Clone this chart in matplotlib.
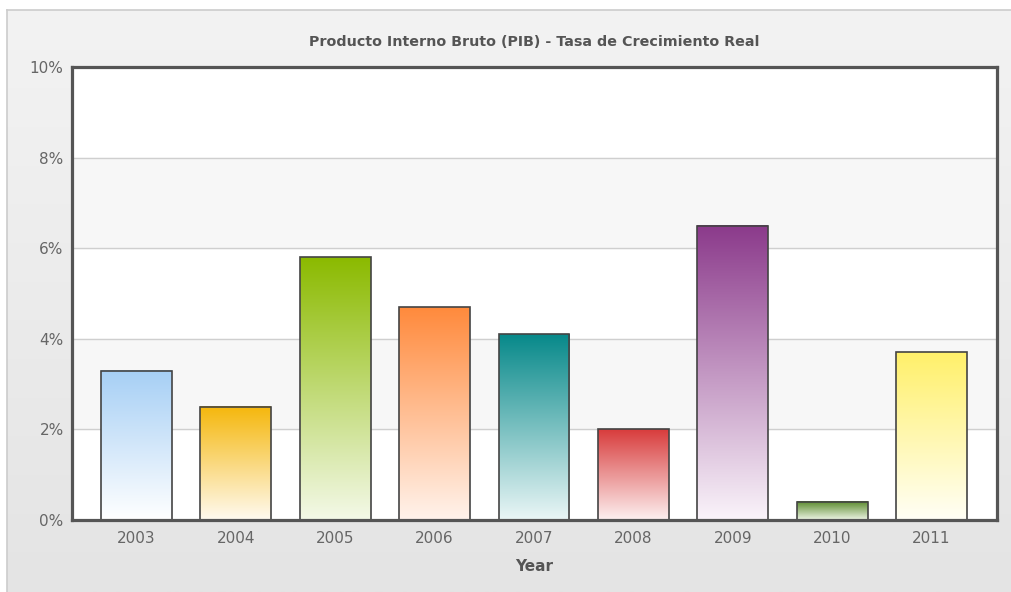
import numpy as np
import matplotlib
matplotlib.use("Agg")
import matplotlib.pyplot as plt
from matplotlib.colors import LinearSegmentedColormap
from matplotlib.patches import Rectangle

# Tasa de crecimiento real del PIB (%)
years = ["2003", "2004", "2005", "2006", "2007", "2008", "2009", "2010", "2011"]
growth = [3.3, 2.5, 5.8, 4.7, 4.1, 2.0, 6.5, 0.4, 3.7]
top_colors = ["#a6cff5", "#f5b70c", "#8bba00", "#ff8a3c", "#07898a",
              "#d83c3c", "#8b3a8b", "#5a8a2c", "#fff06a"]
bottom_colors = ["#ffffff", "#fffaf0", "#f4f9e8", "#fff3ec", "#eaf6f6",
                 "#fdf0f0", "#faf4fa", "#eef5e6", "#fffff6"]
y_ticks = [0, 2, 4, 6, 8, 10]

W, H = 1011, 592
fig = plt.figure(figsize=(W / 100, H / 100), dpi=100)
fig.patch.set_facecolor("white")

# fondo gris degradado del panel
bg = fig.add_axes([7 / W, 0, (W - 7) / W, (H - 10) / H])
bg_grad = np.linspace(0, 1, 256).reshape(-1, 1)
bg_cmap = LinearSegmentedColormap.from_list("bg", ["#f3f3f3", "#e4e4e4"])
bg.imshow(bg_grad, cmap=bg_cmap, aspect="auto", extent=[0, 1, 0, 1], origin="upper")
bg.set_xlim(0, 1)
bg.set_ylim(0, 1)
bg.set_xticks([])
bg.set_yticks([])
for side in ["right", "bottom"]:
    bg.spines[side].set_visible(False)
for side in ["top", "left"]:
    bg.spines[side].set_color("#cccccc")
    bg.spines[side].set_linewidth(1.2)

ax = fig.add_axes([72 / W, (H - 520) / H, 925 / W, 453 / H])
ax.set_facecolor("white")

# bandas alternas y líneas de división
for lo in (2, 6):
    ax.axhspan(lo, lo + 2, color="#f7f7f7", zorder=0)
for t in y_ticks[1:-1]:
    ax.axhline(t, color="#cfcfcf", lw=1, zorder=1)

bar_w = 0.714
grad = np.linspace(1, 0, 256).reshape(-1, 1)
for i, (val, c_top, c_bot) in enumerate(zip(growth, top_colors, bottom_colors)):
    cmap = LinearSegmentedColormap.from_list(f"bar{i}", [c_bot, c_top])
    x0 = i - bar_w / 2
    ax.imshow(grad, cmap=cmap, aspect="auto", extent=[x0, x0 + bar_w, 0, val],
              origin="upper", zorder=2, interpolation="bilinear")
    ax.add_patch(Rectangle((x0, 0), bar_w, val, fill=False,
                           edgecolor="#444444", lw=1.2, zorder=3))

ax.set_xlim(-0.65, 8.66)
ax.set_ylim(0, 10)

ax.set_xticks(range(len(years)))
ax.set_xticklabels(years)
ax.set_yticks(y_ticks)
ax.set_yticklabels([f"{t}%" for t in y_ticks])
ax.tick_params(length=0, colors="#666666", labelsize=11, pad=8)
ax.tick_params(axis="y", pad=6)
for sp in ax.spines.values():
    sp.set_color("#555555")
    sp.set_linewidth(2.3)
    sp.set_zorder(5)

ax.set_xlabel("Year", fontsize=11, fontweight="bold", color="#555555", labelpad=9)
fig.text(534.5 / W, 1 - 42 / H, "Producto Interno Bruto (PIB) - Tasa de Crecimiento Real",
         ha="center", va="center", fontsize=10.3, fontweight="bold", color="#555555")

fig.savefig("out.png", dpi=100)
